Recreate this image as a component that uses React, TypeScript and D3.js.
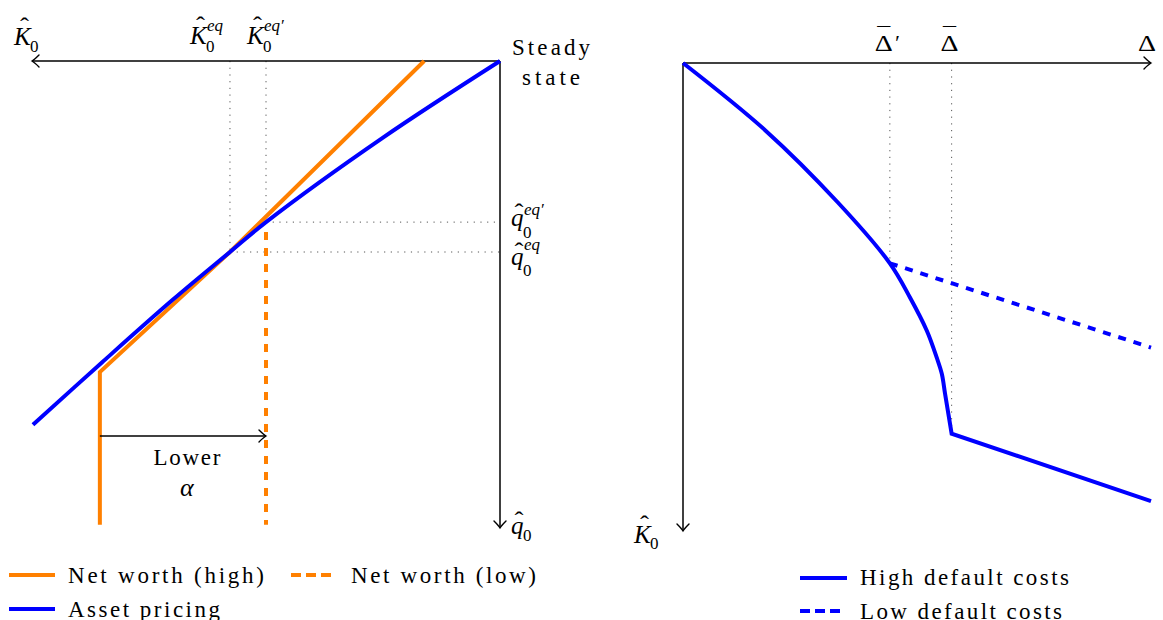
import React from "react";
import * as d3 from "d3";

// ---------- Left panel (K̂0 grows to the left, q̂0 grows downward; both 0..100) ----------
const assetPricingK = [0, 25, 50, 57.7, 70, 85, 99.8];
const assetPricingQ = [0, 16.4, 34.5, 40.9, 51.2, 64.5, 77.9];
const netWorthHighK = [16.2, 57.7, 85.5, 85.5];
const netWorthHighQ = [0, 40.9, 66.6, 99.3];
const netWorthLowK = [50, 50];
const netWorthLowQ = [36.6, 99.3];
const eqK = [57.7, 50]; // K̂0^eq, K̂0^eq'
const eqQ = [40.9, 34.5]; // q̂0^eq, q̂0^eq'
const alphaArrowK = [85.5, 50];
const alphaArrowQ = [80.3];

// ---------- Right panel (Δ to the right, K̂0 downward; both 0..100) ----------
const highCostD = [0, 17.6, 33, 44.2, 48.5, 52.1, 54.2, 55.3, 56.0, 57.4];
const highCostK = [0, 14.4, 29.7, 42.8, 50.1, 57.2, 62.9, 66.4, 70.7, 79.2];
const highCostTailD = [57.4, 100];
const highCostTailK = [79.2, 93.6];
const lowCostD = [44.2, 100];
const lowCostK = [42.8, 60.8];
const thresholdD = [44.2, 57.4]; // Δ̄', Δ̄
const thresholdK = [42.8, 79.2];

const legendLeft = ["Net worth (high)", "Net worth (low)", "Asset pricing"];
const legendRight = ["High default costs", "Low default costs"];

const ORANGE = "#ff8000";
const BLUE = "#0000ff";
const SERIF = "Liberation Serif";

const zip = (a: number[], b: number[]) => a.map((v, i) => [v, b[i]] as [number, number]);

function Arrow({ x, y, angle }: { x: number; y: number; angle: number }) {
  return (
    <path
      d="M -7,-6 Q -2.5,-1.5 0,0 Q -2.5,1.5 -7,6"
      transform={`translate(${x},${y}) rotate(${angle})`}
      fill="none"
      stroke="#000"
      strokeWidth={1.4}
      strokeLinecap="round"
    />
  );
}

type SymProps = {
  x: number;
  y: number;
  base: string;
  baseW: number;
  hat?: boolean;
  hatDy?: number;
  sub?: string;
  sup?: string;
  subDy?: number;
  supDy?: number;
};

function Sym({ x, y, base, baseW, hat, hatDy = -5, sub, sup, subDy = 8, supDy = -13 }: SymProps) {
  return (
    <g fill="#000">
      <text x={x} y={y} fontSize={25} fontStyle="italic" fontFamily={SERIF}>
        {base}
      </text>
      {hat && (
        <text
          x={x + baseW * 0.62}
          y={y + hatDy}
          fontSize={24}
          textAnchor="middle"
          textLength={9}
          lengthAdjust="spacingAndGlyphs"
          fontFamily={SERIF}
        >
          ˆ
        </text>
      )}
      {sub && (
        <text x={x + baseW - 1} y={y + subDy} fontSize={17} fontFamily={SERIF}>
          {sub}
        </text>
      )}
      {sup && (
        <text x={x + baseW} y={y + supDy} fontSize={17} fontStyle="italic" fontFamily={SERIF}>
          {sup}
        </text>
      )}
    </g>
  );
}

function DeltaSym({ x, y, bar, prime }: { x: number; y: number; bar?: boolean; prime?: boolean }) {
  return (
    <g fill="#000">
      <text x={x} y={y} fontSize={24} fontFamily={SERIF} textLength={18} lengthAdjust="spacingAndGlyphs">
        Δ
      </text>
      {bar && (
        <text
          x={x + 9}
          y={y - 9}
          fontSize={22}
          fontFamily={SERIF}
          textAnchor="middle"
          textLength={13}
          lengthAdjust="spacingAndGlyphs"
        >
          ¯
        </text>
      )}
      {prime && (
        <text x={x + 19} y={y - 1} fontSize={22} fontFamily={SERIF} fontStyle="italic">
          ′
        </text>
      )}
    </g>
  );
}

function Label({ x, y, w, children, anchor = "start", size = 23 }: any) {
  return (
    <text
      x={x}
      y={y}
      fontSize={size}
      fontFamily={SERIF}
      textAnchor={anchor}
      textLength={w}
      lengthAdjust="spacing"
    >
      {children}
    </text>
  );
}

export default function App() {
  const xL = d3.scaleLinear().domain([0, 100]).range([500, 32]);
  const yL = d3.scaleLinear().domain([0, 100]).range([61, 528]);
  const xR = d3.scaleLinear().domain([0, 100]).range([683, 1151]);
  const yR = d3.scaleLinear().domain([0, 100]).range([63, 531]);

  const lineL = d3
    .line<[number, number]>()
    .x((d) => xL(d[0]))
    .y((d) => yL(d[1]));
  const curveL = d3
    .line<[number, number]>()
    .x((d) => xL(d[0]))
    .y((d) => yL(d[1]))
    .curve(d3.curveCatmullRom.alpha(0.5));
  const lineR = d3
    .line<[number, number]>()
    .x((d) => xR(d[0]))
    .y((d) => yR(d[1]));
  const curveR = d3
    .line<[number, number]>()
    .x((d) => xR(d[0]))
    .y((d) => yR(d[1]))
    .curve(d3.curveCatmullRom.alpha(0.5));

  const highPath =
    (curveR(zip(highCostD, highCostK)) || "") +
    "L" +
    xR(highCostTailD[1]) +
    "," +
    yR(highCostTailK[1]);

  const dotted = { stroke: "#555", strokeWidth: 1, strokeDasharray: "1.2 5.5", fill: "none" };
  const cx = (xL(alphaArrowK[0]) + xL(alphaArrowK[1])) / 2 + 4;

  return (
    <svg
      width={1163}
      height={620}
      style={{ position: "absolute", left: 0, top: 0, background: "#fff" }}
      fontFamily={SERIF}
    >
      {/* ================= LEFT PANEL ================= */}
      {eqK.map((k, i) => (
        <g key={"gd" + i}>
          <line x1={xL(k)} x2={xL(k)} y1={yL(0)} y2={yL(eqQ[i])} {...dotted} />
          <line x1={xL(k)} x2={xL(0)} y1={yL(eqQ[i])} y2={yL(eqQ[i])} {...dotted} />
        </g>
      ))}

      <line x1={xL(0)} x2={xL(100) + 0.5} y1={yL(0)} y2={yL(0)} stroke="#000" strokeWidth={1.5} />
      <Arrow x={xL(100)} y={yL(0)} angle={180} />
      <line x1={xL(0)} x2={xL(0)} y1={yL(0)} y2={yL(100) - 0.5} stroke="#000" strokeWidth={1.5} />
      <Arrow x={xL(0)} y={yL(100)} angle={90} />

      <path
        d={lineL(zip(netWorthHighK, netWorthHighQ)) || ""}
        fill="none"
        stroke={ORANGE}
        strokeWidth={4}
        strokeLinejoin="miter"
      />
      <path
        d={lineL(zip(netWorthLowK, netWorthLowQ)) || ""}
        fill="none"
        stroke={ORANGE}
        strokeWidth={4}
        strokeDasharray="8 8"
      />
      <path
        d={curveL(zip(assetPricingK, assetPricingQ)) || ""}
        fill="none"
        stroke={BLUE}
        strokeWidth={4}
      />

      <line
        x1={xL(alphaArrowK[0])}
        x2={xL(alphaArrowK[1]) - 0.5}
        y1={yL(alphaArrowQ[0])}
        y2={yL(alphaArrowQ[0])}
        stroke="#000"
        strokeWidth={1.5}
      />
      <Arrow x={xL(alphaArrowK[1])} y={yL(alphaArrowQ[0])} angle={0} />
      <Label x={cx} y={yL(alphaArrowQ[0]) + 29} w={67} anchor="middle">
        Lower
      </Label>
      <text x={cx} y={yL(alphaArrowQ[0]) + 60} fontSize={26} fontStyle="italic" textAnchor="middle" fontFamily={SERIF}>
        α
      </text>

      <Sym x={14} y={45} base="K" baseW={17} hat hatDy={-11} sub="0" subDy={7} />
      <Sym x={xL(eqK[0]) - 40} y={44} base="K" baseW={17} hat hatDy={-11} sub="0" subDy={8} sup="eq" />
      <Sym x={xL(eqK[1]) - 19} y={44} base="K" baseW={17} hat hatDy={-11} sub="0" subDy={8} sup="eq′" />
      <Sym x={xL(0) + 11} y={yL(eqQ[1]) + 4} base="q" baseW={13} hat hatDy={-6} sub="0" subDy={12} supDy={-11} sup="eq′" />
      <Sym x={xL(0) + 11} y={yL(eqQ[0]) + 13} base="q" baseW={13} hat hatDy={-6} sub="0" subDy={11} supDy={-15} sup="eq" />
      <Sym x={xL(0) + 11} y={yL(100) + 6} base="q" baseW={13} hat hatDy={-6} sub="0" subDy={7} />
      <Label x={551} y={55} w={78} anchor="middle">
        Steady
      </Label>
      <Label x={551} y={85} w={58} anchor="middle">
        state
      </Label>

      <line x1={9} x2={55} y1={575} y2={575} stroke={ORANGE} strokeWidth={4} />
      <Label x={68} y={583} w={196}>
        {legendLeft[0]}
      </Label>
      <line x1={291} x2={331} y1={575} y2={575} stroke={ORANGE} strokeWidth={4} strokeDasharray="10 5" />
      <Label x={351} y={583} w={185}>
        {legendLeft[1]}
      </Label>
      <line x1={9} x2={55} y1={609} y2={609} stroke={BLUE} strokeWidth={4} />
      <Label x={68} y={617} w={152}>
        {legendLeft[2]}
      </Label>

      {/* ================= RIGHT PANEL ================= */}
      {thresholdD.map((d, i) => (
        <line key={"td" + i} x1={xR(d)} x2={xR(d)} y1={yR(0)} y2={yR(thresholdK[i])} {...dotted} />
      ))}

      <line x1={xR(0)} x2={xR(100) - 0.5} y1={yR(0)} y2={yR(0)} stroke="#000" strokeWidth={1.5} />
      <Arrow x={xR(100)} y={yR(0)} angle={0} />
      <line x1={xR(0)} x2={xR(0)} y1={yR(0)} y2={yR(100) - 0.5} stroke="#000" strokeWidth={1.5} />
      <Arrow x={xR(0)} y={yR(100)} angle={90} />

      <path
        d={lineR(zip(lowCostD, lowCostK)) || ""}
        fill="none"
        stroke={BLUE}
        strokeWidth={4}
        strokeDasharray="8 8"
      />
      <path d={highPath} fill="none" stroke={BLUE} strokeWidth={4} strokeLinejoin="miter" />

      <DeltaSym x={xR(thresholdD[0]) - 15} y={51} bar prime />
      <DeltaSym x={xR(thresholdD[1]) - 11} y={51} bar />
      <DeltaSym x={1138} y={51} />
      <Sym x={634} y={543} base="K" baseW={17} hat hatDy={-11} sub="0" subDy={6} />

      <line x1={800} x2={847} y1={578} y2={578} stroke={BLUE} strokeWidth={4} />
      <Label x={860} y={585} w={209}>
        {legendRight[0]}
      </Label>
      <line x1={800} x2={841} y1={611} y2={611} stroke={BLUE} strokeWidth={4} strokeDasharray="10 5" />
      <Label x={860} y={619} w={202}>
        {legendRight[1]}
      </Label>
    </svg>
  );
}
